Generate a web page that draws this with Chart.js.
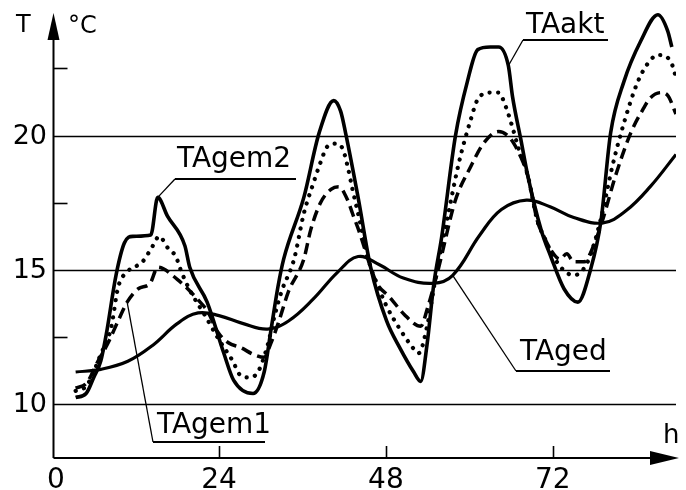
<!DOCTYPE html>
<html>
<head>
<meta charset="utf-8">
<script src="https://cdn.jsdelivr.net/npm/chart.js@4/dist/chart.umd.min.js"></script>
<style>
  html, body { margin: 0; padding: 0; background: #fff; }
  #wrap { width: 686px; height: 490px; }
</style>
</head>
<body>
<div id="wrap"><canvas id="c" width="686" height="490"></canvas></div>
<script>
// Outdoor temperature over time: [hour, °C]
const tAakt = [
  [3.4,10.25],[4.9,10.4],[6.0,11.0],[7.0,11.6],[7.8,12.6],[9.2,14.8],[10.4,16.0],[11.6,16.25],
  [14.2,16.3],[15.2,17.7],[16.6,17.0],[19.1,15.9],[19.8,15.1],[22.3,13.8],[24.7,11.9],[26.1,10.9],
  [28.9,10.4],[30.5,11.2],[31.5,12.8],[32.5,14.4],[33.3,15.4],[36.2,17.7],[38.4,20.1],[40.5,21.3],
  [41.5,20.9],[42.2,20.1],[44.0,17.7],[45.8,15.1],[48.1,13.1],[50.0,12.1],[52.0,11.2],[53.0,10.85],
  [53.9,12.2],[54.9,14.5],[56.0,16.2],[58.0,20.0],[59.7,22.0],[61.2,23.2],[63.0,23.3],[64.2,23.3],
  [65.6,22.6],[66.2,21.45],[67.4,19.85],[68.4,18.5],[70.3,16.5],[71.7,15.5],[73.6,14.3],[75.6,13.8],
  [77.4,15.0],[78.9,16.8],[80.3,20.1],[82.2,22.0],[84.6,23.5],[87.1,24.5],[88.5,23.9],[89.1,23.3]
];
const tAgem2 = [
  [3.4,10.5],[5.0,10.7],[7.0,11.85],[8.5,12.85],[9.5,14.35],[10.9,14.95],[13.0,15.3],[14.5,15.9],
  [15.4,16.25],[16.7,15.8],[17.8,15.5],[18.5,15.0],[19.7,14.3],[22.0,13.3],[24.0,12.4],[26.0,11.6],
  [27.0,11.1],[28.3,11.0],[29.6,11.2],[31.0,12.2],[32.0,13.3],[33.0,14.2],[34.8,15.4],[36.2,17.1],
  [37.6,18.25],[38.6,19.0],[39.6,19.6],[40.8,19.7],[41.8,19.5],[42.5,18.85],[43.2,18.0],[44.0,17.1],
  [45.8,15.1],[46.7,14.5],[48.0,13.7],[50.0,12.8],[51.6,12.2],[52.7,11.9],[54.0,13.0],[55.0,14.5],
  [56.9,17.0],[58.5,19.0],[60.2,20.6],[61.2,21.35],[63.0,21.6],[64.2,21.6],[65.2,21.1],[66.2,20.3],
  [67.1,19.5],[67.8,19.0],[68.4,18.5],[69.8,16.8],[70.7,16.25],[72.1,15.5],[73.5,15.0],[75.0,14.8],
  [77.0,15.3],[78.9,16.9],[80.5,18.8],[81.8,20.1],[84.2,22.0],[86.0,22.8],[87.1,23.0],[88.5,22.9],
  [89.4,22.45],[89.7,22.1]
];
const tAgem1 = [
  [3.4,10.6],[5.0,10.8],[6.6,11.6],[8.0,12.25],[9.5,13.1],[10.8,13.8],[12.4,14.3],[14.1,14.5],
  [15.2,15.1],[18.0,14.65],[21.3,13.8],[22.4,13.45],[23.8,12.7],[25.3,12.3],[27.2,12.1],[29.0,11.85],
  [30.5,11.75],[31.5,12.3],[32.5,13.0],[34.0,14.2],[36.2,15.4],[37.2,16.5],[38.6,17.5],[40.1,18.0],
  [41.2,18.1],[42.5,17.6],[43.2,17.1],[44.2,16.4],[45.8,15.1],[46.7,14.5],[48.5,14.0],[50.6,13.35],
  [53.0,12.9],[54.0,13.6],[55.5,15.0],[58.0,17.6],[60.2,18.85],[62.0,19.7],[64.2,20.15],[65.5,20.0],
  [66.4,19.7],[67.4,19.2],[68.4,18.5],[69.8,16.8],[70.7,16.25],[71.7,15.75],[73.0,15.4],[74.0,15.6],
  [75.0,15.3],[76.5,15.3],[78.0,16.0],[79.2,16.9],[81.0,18.5],[83.2,20.1],[85.0,21.0],[86.0,21.4],
  [87.5,21.6],[88.5,21.5],[89.7,20.8]
];
const tAged = [
  [3.4,11.2],[7.0,11.3],[10.9,11.6],[14.5,12.2],[18.0,13.0],[21.0,13.4],[24.0,13.3],
  [27.5,13.0],[31.0,12.8],[34.0,13.1],[37.5,13.9],[41.0,14.9],[44.0,15.5],[47.0,15.2],
  [50.5,14.7],[54.8,14.5],[57.6,14.8],[61.5,16.3],[64.6,17.25],[68.2,17.6],[71.6,17.35],
  [75.0,16.95],[79.2,16.75],[82.5,17.2],[86.0,18.1],[89.7,19.3]
];

// Axis ranges and tick values
const hourMin = 0, hourMax = 89.7;
const tempMin = 8, tempMax = 24.6;
const hourTicks = [0, 24, 48, 72];
const tempLabels = [10, 15, 20];
const tempMinorTicks = [12.5, 17.5, 22.5];

// Curve names with the hour where each name's leader line touches its curve
const curveLabels = [
  { text: 'TAgem2', series: tAakt,  hour: 15.2, tx: 177, ty: 167, ux0: 175, ux1: 296, uy: 179 },
  { text: 'TAakt',  series: tAakt,  hour: 65.6, tx: 526, ty: 33,  ux0: 523, ux1: 608, uy: 40 },
  { text: 'TAged',  series: tAged,  hour: 57.6, tx: 520, ty: 360, ux0: 516, ux1: 610, uy: 371 },
  { text: 'TAgem1', series: tAgem1, hour: 10.8, tx: 157, ty: 433, ux0: 153, ux1: 265, uy: 442 }
];

const toPoints = arr => arr.map(([x, y]) => ({ x, y }));
const FONT = '"DejaVu Sans", sans-serif';

const axesPlugin = {
  id: 'technicalAxes',
  beforeDatasetsDraw(chart) {
    const { ctx, chartArea: a, scales: { y } } = chart;
    ctx.save();
    ctx.strokeStyle = '#000';
    ctx.lineWidth = 1.6;
    // full horizontal rules at labelled temperatures
    tempLabels.forEach(v => {
      const py = Math.round(y.getPixelForValue(v)) + 0.5;
      ctx.beginPath(); ctx.moveTo(a.left + 2, py); ctx.lineTo(a.right, py); ctx.stroke();
    });
    ctx.restore();
  },
  afterDatasetsDraw(chart) {
    const { ctx, chartArea: a, scales: { x, y } } = chart;
    const ax = a.left + 1.5;          // vertical axis position
    const ay = a.bottom;              // horizontal axis position
    ctx.save();
    ctx.strokeStyle = '#000';
    ctx.fillStyle = '#000';
    ctx.lineCap = 'butt';

    // vertical axis with arrow
    ctx.lineWidth = 2;
    ctx.beginPath(); ctx.moveTo(ax, ay); ctx.lineTo(ax, 40); ctx.stroke();
    ctx.beginPath(); ctx.moveTo(ax, 13); ctx.lineTo(ax - 6, 40); ctx.lineTo(ax + 6, 40); ctx.closePath(); ctx.fill();

    // horizontal axis with arrow
    ctx.beginPath(); ctx.moveTo(ax, ay); ctx.lineTo(652, ay); ctx.stroke();
    ctx.beginPath(); ctx.moveTo(679, ay); ctx.lineTo(650, ay - 7); ctx.lineTo(650, ay + 7); ctx.closePath(); ctx.fill();

    // minor temperature ticks
    ctx.lineWidth = 1.6;
    tempMinorTicks.forEach(v => {
      const py = Math.round(y.getPixelForValue(v)) + 0.5;
      ctx.beginPath(); ctx.moveTo(ax, py); ctx.lineTo(ax + 14, py); ctx.stroke();
    });
    // hour ticks
    hourTicks.filter(h => h > 0).forEach(h => {
      const px = Math.round(x.getPixelForValue(h)) + 0.5;
      ctx.beginPath(); ctx.moveTo(px, ay); ctx.lineTo(px, ay - 12); ctx.stroke();
    });

    // tick labels
    ctx.font = '27px ' + FONT;
    ctx.textAlign = 'right';
    ctx.textBaseline = 'middle';
    tempLabels.forEach(v => ctx.fillText(String(v), 47, y.getPixelForValue(v) + 1));
    ctx.font = '28px ' + FONT;
    ctx.textAlign = 'center';
    ctx.textBaseline = 'alphabetic';
    hourTicks.forEach(h => ctx.fillText(String(h), x.getPixelForValue(h) + (h === 0 ? 4 : 0), 488));

    // axis titles
    ctx.textAlign = 'left';
    ctx.font = '24px ' + FONT;
    ctx.fillText('T', 16, 32);
    ctx.fillText('°C', 68, 33);
    ctx.font = '26px ' + FONT;
    ctx.fillText('h', 663, 443);

    // curve names with underline and leader
    curveLabels.forEach(l => {
      const pt = l.series.find(p => p[0] === l.hour);
      const px = x.getPixelForValue(pt[0]);
      const py = y.getPixelForValue(pt[1]);
      ctx.font = '28px ' + FONT;
      ctx.fillText(l.text, l.tx, l.ty);
      ctx.lineWidth = 2;
      ctx.beginPath(); ctx.moveTo(l.ux0, l.uy); ctx.lineTo(l.ux1, l.uy); ctx.stroke();
      ctx.lineWidth = 1.3;
      ctx.beginPath(); ctx.moveTo(l.ux0, l.uy); ctx.lineTo(px, py); ctx.stroke();
    });
    ctx.restore();
  }
};

new Chart(document.getElementById('c'), {
  type: 'line',
  data: {
    datasets: [
      { label: 'TAged', data: toPoints(tAged), borderColor: '#000', borderWidth: 3.2,
        cubicInterpolationMode: 'default', tension: 0.4 },
      { label: 'TAgem1', data: toPoints(tAgem1), borderColor: '#000', borderWidth: 3.5, borderDash: [11, 6] },
      { label: 'TAgem2', data: toPoints(tAgem2), borderColor: '#000', borderWidth: 4.2, borderDash: [0.1, 8.5], borderCapStyle: 'round' },
      { label: 'TAakt', data: toPoints(tAakt), borderColor: '#000', borderWidth: 3.6 }
    ]
  },
  options: {
    responsive: false,
    animation: false,
    devicePixelRatio: 1,
    layout: { padding: { left: 52, right: 10, top: 12, bottom: 32 } },
    elements: {
      point: { radius: 0 },
      line: { cubicInterpolationMode: 'monotone', fill: false, borderJoinStyle: 'round' }
    },
    scales: {
      x: { type: 'linear', min: hourMin, max: hourMax, display: false },
      y: { type: 'linear', min: tempMin, max: tempMax, display: false }
    },
    plugins: { legend: { display: false }, tooltip: { enabled: false } }
  },
  plugins: [axesPlugin]
});
</script>
</body>
</html>
